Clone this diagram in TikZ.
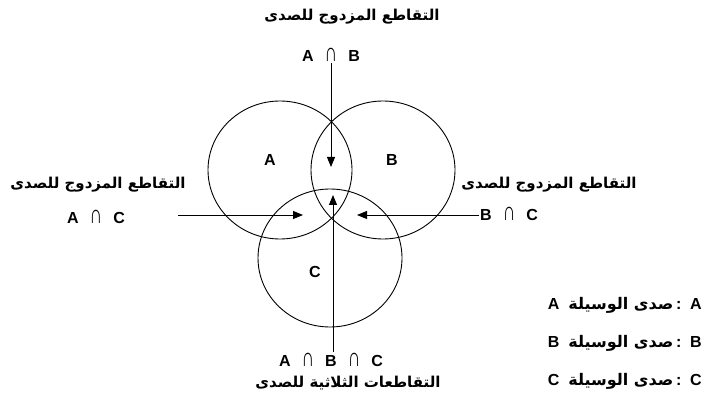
\documentclass[tikz,border=0pt]{standalone}
\usepackage{fontspec}
\usepackage{graphicx}
\setmainfont{Liberation Sans}
\newfontfamily\arabicfont[Script=Arabic]{DejaVu Sans}
\TeXXeTstate=1
\usetikzlibrary{arrows.meta,positioning,shapes.geometric}
\newcommand{\ar}[1]{{\arabicfont\bfseries\beginR #1\endR}}
\newcommand{\ic}{\hspace{11pt}\raisebox{-0.2pt}{\scalebox{1.1}[1.65]{\mdseries\char"2229}}\hspace{11pt}}

\begin{document}
\begin{tikzpicture}[x=1pt,y=-1pt,font=\fontsize{16}{19}\selectfont\bfseries,
 >={Triangle[length=10pt,width=8pt]},
 set/.style={draw,line width=0.9pt,ellipse,minimum width=144pt,minimum height=138pt,inner sep=0pt},
 lbl/.style={inner sep=1pt},
 artext/.style={inner sep=1pt,font=\fontsize{15}{18}\selectfont},
 flow/.style={->,line width=0.9pt}]
\useasboundingbox (0,0) rectangle (709,403);
% the three sets
\node[set] (setA) at (280,170) {};
\node[set] (setB) at (383,170) {};
\node[set] (setC) at (330,258) {};
\node[lbl] (nameA) at (270,160) {A};
\node[lbl] (nameB) at (392,160) {B};
\node[lbl] (nameC) at (315,272) {C};
% labels round the diagram
\node[artext] (topar) at (352,17) {\ar{التقاطع المزدوج للصدى}};
\node[lbl] (ab) at (331,55) {A\ic B};
\node[artext] (leftar) at (98,185) {\ar{التقاطع المزدوج للصدى}};
\node[lbl] (ac) at (96,217) {A\ic C};
\node[artext] (rightar) at (549,185) {\ar{التقاطع المزدوج للصدى}};
\node[lbl,anchor=west] (bc) at (479,214) {B\ic C};
\node[lbl] (abc) at (331,360) {A\ic B\ic C};
\node[artext] (botar) at (348,383) {\ar{التقاطعات الثلاثية للصدى}};
% legend
\node[lbl,anchor=east] (keyA) at (703,305) {A~~\ar{صدى الوسيلة}\,:~~A};
\node[lbl,anchor=east] (keyB) at (703,343) {B~~\ar{صدى الوسيلة}\,:~~B};
\node[lbl,anchor=east] (keyC) at (703,381) {C~~\ar{صدى الوسيلة}\,:~~C};
% arrows
\coordinate (tipab) at (331,167);
\coordinate (tipabc) at (333,195);
\coordinate (tailac) at (178,215);
\coordinate (tipac) at (303,215);
\coordinate (tipbc) at (357,215);
\draw[flow] (ab.south) -- (tipab);
\draw[flow] (abc.north -| tipabc) -- (tipabc);
\draw[flow] (tailac) -- (tipac);
\draw[flow] (bc.west |- tipbc) -- (tipbc);
\end{tikzpicture}
\end{document}
